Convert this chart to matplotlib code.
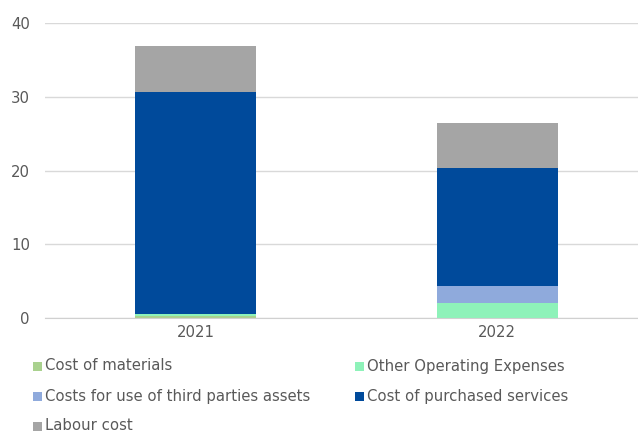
import matplotlib
matplotlib.use("Agg")
import matplotlib.pyplot as plt
from matplotlib.patches import Rectangle
import numpy as np

years = ["2021", "2022"]
cost_of_materials = [0.25, 0.0]
other_operating = [0.3, 2.1]
third_parties_assets = [0.0, 2.3]
purchased_services = [30.15, 16.0]
labour_cost = [6.2, 6.0]

series = [
    ("Cost of materials", cost_of_materials, "#A9D18E"),
    ("Other Operating Expenses", other_operating, "#8EF2B9"),
    ("Costs for use of third parties assets", third_parties_assets, "#8FAADC"),
    ("Cost of purchased services", purchased_services, "#004A9B"),
    ("Labour cost", labour_cost, "#A5A5A5"),
]

plt.rcParams["font.family"] = ["DejaVu Sans"]
W, H = 638, 432
FS = 10.7
TXT = "#595959"

fig = plt.figure(figsize=(W / 100, H / 100), dpi=100)
ax = fig.add_axes([45 / W, 1 - 318.3 / H, (648 - 45) / W, (318.3 - 23) / H])

x = np.arange(len(years))
bottom = np.zeros(len(years))
for name, vals, color in series:
    vals = np.array(vals, dtype=float)
    ax.bar(x, vals, width=0.4, bottom=bottom, color=color, edgecolor="none", zorder=3)
    bottom += vals

ax.set_xlim(-0.5, 1.5)
ax.set_ylim(0, 40)
ax.set_yticks([0, 10, 20, 30, 40])
ax.set_xticks(x)
ax.set_xticklabels(years)
ax.grid(axis="y", color="#D9D9D9", linewidth=1, zorder=0)
for s in ["top", "right", "left"]:
    ax.spines[s].set_visible(False)
ax.spines["bottom"].set_color("#D0D0D0")
ax.spines["bottom"].set_zorder(4)
ax.tick_params(axis="both", length=0, labelcolor=TXT, labelsize=FS)
ax.tick_params(axis="y", pad=10.8)
ax.tick_params(axis="x", pad=5)

# Legend laid out in two columns, row-major
legend_cols = [33, 355]
legend_rows = [366, 396, 426]
for i, (name, _, color) in enumerate(series):
    r, c = divmod(i, 2)
    px, py = legend_cols[c], legend_rows[r]
    fig.patches.append(Rectangle((px / W, 1 - (py + 4.5) / H), 9 / W, 9 / H,
                                 transform=fig.transFigure, facecolor=color,
                                 edgecolor="none"))
    fig.text((px + 12) / W, 1 - py / H, name, fontsize=FS, color=TXT,
             va="center", ha="left")

fig.savefig("out.png", dpi=100)
